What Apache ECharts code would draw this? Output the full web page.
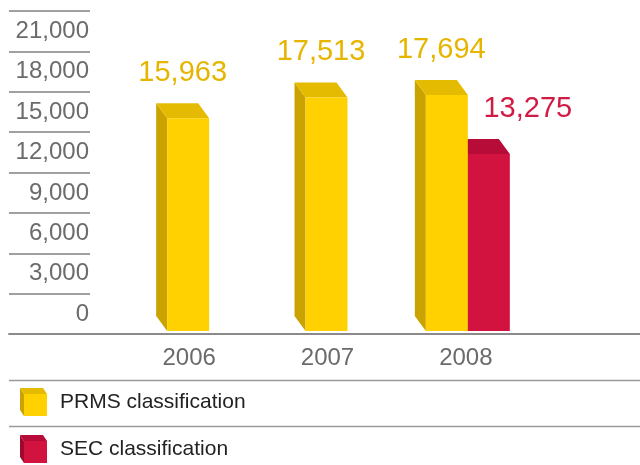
<!DOCTYPE html>
<html>
<head>
<meta charset="utf-8">
<script src="https://cdn.jsdelivr.net/npm/echarts@6/dist/echarts.min.js"></script>
<style>
  html, body { margin: 0; padding: 0; background: #ffffff; }
  #chart { width: 640px; height: 465px; }
</style>
</head>
<body>
<div id="chart"></div>
<script>
// Reserves by year, two classification methods
const years = ['2006', '2007', '2008'];
const prmsReserves = [15963, 17513, 17694];
const secReserves = [null, null, 13275];
const seriesNames = ['PRMS classification', 'SEC classification'];

// Value axis range and tick step
const yMax = 24000;
const yStep = 3000;

const FONT = '"Liberation Sans", Arial, Helvetica, sans-serif';
const GREY_TEXT = '#6b6b6b';

// Box geometry: front face width and depth offset of the back faces
const FACE_W = 42;
const DX = -11;
const DY = -15;

const PRMS_COLORS = { front: '#FFD100', side: '#CBA300', top: '#E4BB00', label: '#E6B500' };
const SEC_COLORS = { front: '#D3133F', side: '#9E0A2E', top: '#B60C37', label: '#D11B44' };

function fmt(v) {
  return String(v).replace(/\B(?=(\d{3})+(?!\d))/g, ',');
}

function boxFaces(x0, yTop, yBase, c) {
  const x1 = x0 + FACE_W;
  return [
    { type: 'polygon',
      shape: { points: [[x0, yTop], [x0, yBase], [x0 + DX, yBase + DY], [x0 + DX, yTop + DY]] },
      style: { fill: c.side } },
    { type: 'polygon',
      shape: { points: [[x0, yTop], [x1, yTop], [x1 + DX, yTop + DY], [x0 + DX, yTop + DY]] },
      style: { fill: c.top } },
    { type: 'rect',
      shape: { x: x0, y: yTop, width: FACE_W, height: yBase - yTop },
      style: { fill: c.front } }
  ];
}

function renderPrms(params, api) {
  const idx = api.value(0);
  const val = api.value(1);
  const base = api.coord([idx, 0]);
  const top = api.coord([idx, val]);
  const paired = secReserves[idx] != null;
  const x0 = paired ? base[0] - 40 : base[0] - 22;
  const children = boxFaces(x0, top[1], base[1], PRMS_COLORS);
  children.push({
    type: 'text',
    style: {
      text: fmt(val), x: x0 + (DX + FACE_W) / 2, y: top[1] - 45,
      align: 'center', verticalAlign: 'middle',
      fill: PRMS_COLORS.label, font: '29px ' + FONT
    }
  });
  return { type: 'group', children: children };
}

function renderSec(params, api) {
  const idx = api.value(0);
  const val = api.value(1);
  const base = api.coord([idx, 0]);
  const top = api.coord([idx, val]);
  const x0 = base[0] + 2;
  const children = boxFaces(x0, top[1], base[1], SEC_COLORS);
  children.push({
    type: 'text',
    style: {
      text: fmt(val), x: x0 + 60, y: top[1] - 45,
      align: 'center', verticalAlign: 'middle',
      fill: SEC_COLORS.label, font: '29px ' + FONT
    }
  });
  return { type: 'group', children: children };
}

function cubeIcon(c) {
  const svg = '<svg xmlns="http://www.w3.org/2000/svg" width="27" height="28" viewBox="0 0 27 28">' +
    '<polygon points="0,0 4,6 4,28 0,22" fill="' + c.side + '"/>' +
    '<polygon points="0,0 23,0 27,6 4,6" fill="' + c.top + '"/>' +
    '<rect x="4" y="6" width="23" height="22" fill="' + c.front + '"/></svg>';
  return 'image://data:image/svg+xml;charset=utf-8,' + encodeURIComponent(svg);
}

function legendFor(name, colors, top) {
  return {
    orient: 'vertical', left: 20, top: top, padding: 0,
    itemWidth: 27, itemHeight: 28,
    selectedMode: false,
    textStyle: { fontSize: 21, color: '#222222', fontFamily: FONT, padding: [0, 0, 0, 8] },
    data: [{ name: name, icon: cubeIcon(colors) }]
  };
}

const prmsData = prmsReserves.map((v, i) => (v == null ? null : [i, v])).filter(Boolean);
const secData = secReserves.map((v, i) => (v == null ? null : [i, v])).filter(Boolean);

const chart = echarts.init(document.getElementById('chart'), null, { renderer: 'canvas' });

chart.setOption({
  animation: false,
  backgroundColor: '#ffffff',
  textStyle: { fontFamily: FONT },
  grid: [
    // value scale column on the left
    { left: 9, width: 81, top: 11, height: 323 },
    // full-width baseline
    { left: 9, right: 0, top: 11, height: 323 },
    // bars
    { left: 120, right: 105, top: 11, height: 320 }
  ],
  xAxis: [
    { gridIndex: 0, type: 'category', data: years, show: false },
    { gridIndex: 1, type: 'value', min: 0, max: 1,
      axisLine: { show: true, lineStyle: { color: '#8a8a8a', width: 2 } },
      axisTick: { show: false }, axisLabel: { show: false }, splitLine: { show: false } },
    { gridIndex: 2, type: 'category', data: years,
      axisLine: { show: false }, axisTick: { show: false },
      axisLabel: { fontSize: 24, color: GREY_TEXT, fontFamily: FONT, margin: 15 } }
  ],
  yAxis: [
    { gridIndex: 0, type: 'value', min: 0, max: yMax, interval: yStep, position: 'right',
      axisLine: { show: false }, axisTick: { show: false },
      splitLine: { show: true, lineStyle: { color: '#808080', width: 1.5 } },
      axisLabel: {
        inside: true, margin: 1, color: GREY_TEXT,
        formatter: v => (v >= yMax ? '' : '{t|' + fmt(v) + '}'),
        rich: {
          t: { fontSize: 24, color: GREY_TEXT, fontFamily: FONT, padding: [0, 0, 40, 0] }
        }
      } },
    { gridIndex: 1, type: 'value', show: false },
    { gridIndex: 2, type: 'value', min: 0, max: yMax, show: false }
  ],
  legend: [
    legendFor(seriesNames[0], PRMS_COLORS, 388),
    legendFor(seriesNames[1], SEC_COLORS, 435)
  ],
  graphic: [
    { type: 'line', shape: { x1: 9, y1: 380.5, x2: 640, y2: 380.5 },
      style: { stroke: '#9a9a9a', lineWidth: 1.5 } },
    { type: 'line', shape: { x1: 9, y1: 426.5, x2: 640, y2: 426.5 },
      style: { stroke: '#9a9a9a', lineWidth: 1.5 } }
  ],
  series: [
    { name: seriesNames[1], type: 'custom', xAxisIndex: 2, yAxisIndex: 2,
      renderItem: renderSec, data: secData, encode: { x: 0, y: 1 }, clip: false, z: 2,
      itemStyle: { color: SEC_COLORS.front } },
    { name: seriesNames[0], type: 'custom', xAxisIndex: 2, yAxisIndex: 2,
      renderItem: renderPrms, data: prmsData, encode: { x: 0, y: 1 }, clip: false, z: 3,
      itemStyle: { color: PRMS_COLORS.front } }
  ]
});
</script>
</body>
</html>
